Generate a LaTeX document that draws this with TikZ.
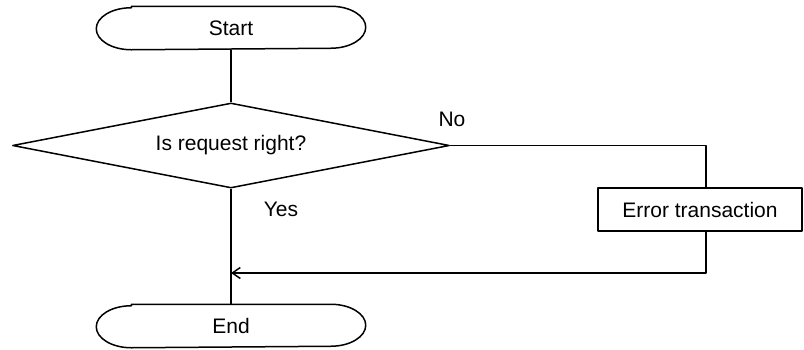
\documentclass[tikz,border=0pt]{standalone}
\usepackage{fontspec}
\setmainfont{Liberation Sans}
\usetikzlibrary{arrows.meta,shapes.geometric}

\begin{document}
\begin{tikzpicture}[x=1pt, y=-1pt, line width=1.5pt, line join=round,
    every node/.style={font=\fontsize{21}{25}\selectfont},
    terminal/.style={rectangle, minimum width=268pt, minimum height=42pt, inner sep=0pt},
    decision/.style={draw, diamond, aspect=5.14, minimum width=437pt, minimum height=85pt, inner sep=1pt},
    process/.style={draw, rectangle, minimum width=204pt, minimum height=43pt, inner sep=0pt},
    label/.style={inner sep=0pt}]

  %% ════ nodes ════
  \node[terminal] (start)  at (231.0,28.0)  {Start};
  \node[decision] (decide) at (231.0,145.5) {Is request right?};
  \node[process]  (err)    at (700.0,209.5) {Error transaction};
  \node[terminal] (end)    at (231.0,326.0) {End};

  \coordinate (join) at (231.0,273.0);

  %% ════ terminal outlines: straight sides, half-ellipse ends ════
  \draw ([xshift=35pt]start.north west) -- ([xshift=-35pt]start.north east)
        arc[start angle=90, end angle=-90, x radius=35pt, y radius=21pt]
        -- ([xshift=35pt]start.south west)
        arc[start angle=270, end angle=90, x radius=35pt, y radius=21pt] -- cycle;
  \draw ([xshift=35pt]end.north west) -- ([xshift=-35pt]end.north east)
        arc[start angle=90, end angle=-90, x radius=35pt, y radius=21pt]
        -- ([xshift=35pt]end.south west)
        arc[start angle=270, end angle=90, x radius=35pt, y radius=21pt] -- cycle;

  %% ════ connectors ════
  \draw (start) -- (decide);
  \draw (decide) -- (end);
  \draw (decide.east) -| ([xshift=6pt]err.north);
  \draw[-{Straight Barb[length=8pt,width=11pt]}] ([xshift=6pt]err.south) |- (join);

  %% ════ labels ════
  \node[label] (no)  at (452.0,119.0) {No};
  \node[label] (yes) at (281.0,209.0) {Yes};

  % fix the canvas
  \pgfresetboundingbox
  \path[use as bounding box] (0,0) rectangle (804,349);
\end{tikzpicture}
\end{document}
